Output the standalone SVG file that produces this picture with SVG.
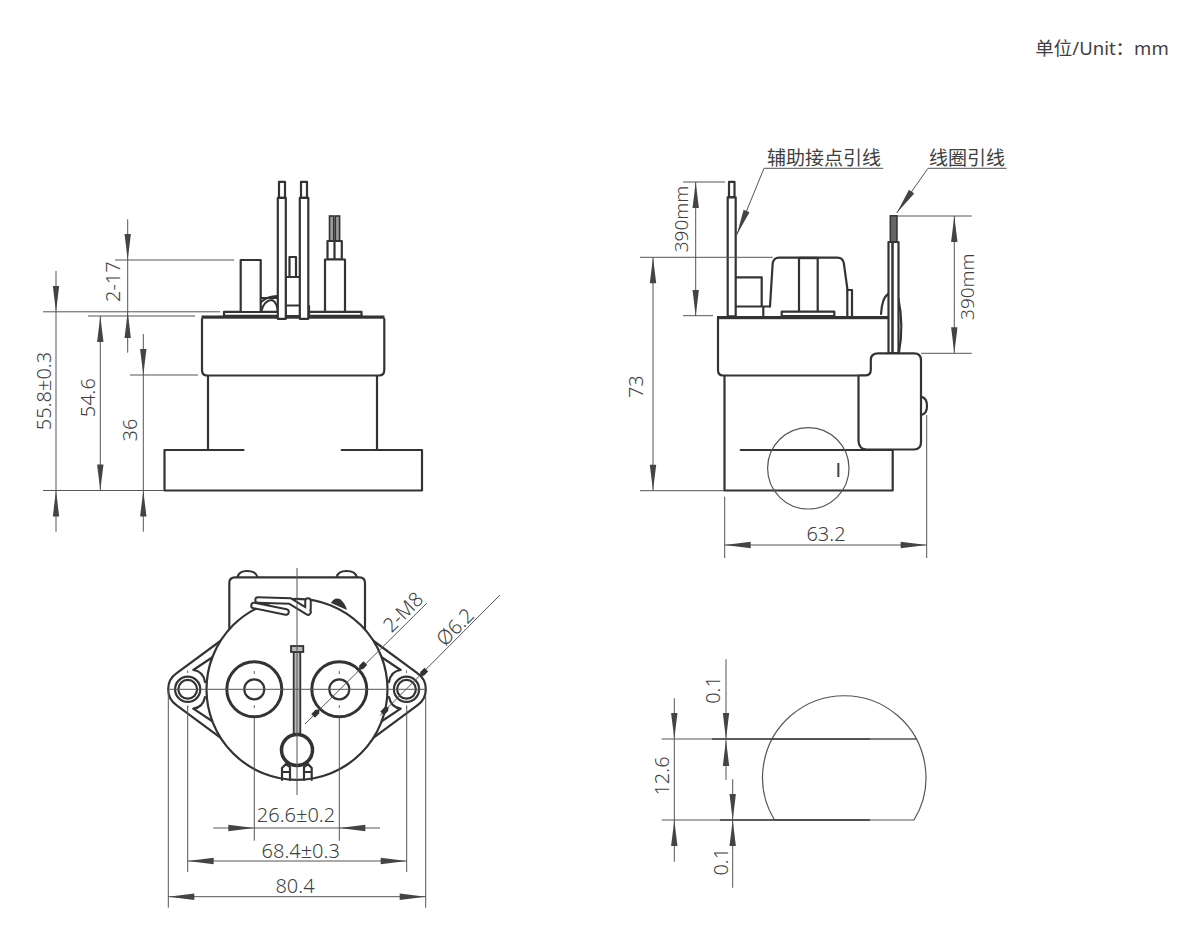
<svg xmlns="http://www.w3.org/2000/svg" xmlns:xlink="http://www.w3.org/1999/xlink" width="1200" height="948" viewBox="0 0 1200 948">
<style>
.o{fill:none;stroke:#333;stroke-width:2.2;stroke-linejoin:round;stroke-linecap:round}
.w{fill:#fff;stroke:#333;stroke-width:2.2;stroke-linejoin:round}
.d{fill:none;stroke:#555;stroke-width:1}
.t{fill:none;stroke:#555;stroke-width:1.2}
.g{fill:#bbb;stroke:#333;stroke-width:1.8}
.f{fill:#333}
.k{fill:none;stroke:#666;stroke-width:1}
text{font-family:"Noto Sans","Noto Sans CJK SC",sans-serif;font-size:20px;font-weight:300;fill:#404040;text-anchor:middle}
.c{font-family:"Noto Sans CJK SC","Noto Sans",sans-serif;font-size:19px;font-weight:400}
.m{font-size:19px}
</style>
<defs>
<path id="a" d="M0 0L-26 -3.2L-26 3.2Z" fill="#444"/>
<path id="s" d="M0 0L-3 -2.6L-9 -2.6L-9 2.6L-3 2.6Z" fill="#333"/>
</defs>

<g id="front-view">
<path class="o" d="M243.500 450H164.500V490.500H422V450H341.700"/>
<path class="o" d="M208 376V450M377 376V450"/>
<path class="o" d="M202 319V370Q202 375.500 207 375.500H379Q384.300 375.500 384.300 370V319"/>
<rect x="201.500" y="315.500" width="183" height="3.200" fill="#333"/>
<rect class="o" x="224" y="311.800" width="137.500" height="4"/>
<rect class="w" x="240.700" y="260" width="20" height="52"/>
<path class="o" d="M261 302Q268 296 277 296M261 312Q264 300 272 300Q277 302 278 312M261 298H277"/>
<path class="o" d="M309 306V316"/>
<rect class="w" x="289.500" y="257" width="6.500" height="20"/>
<rect class="w" x="285.500" y="277" width="15" height="39"/>
<path class="o" d="M285.500 305.500H300.500"/>
<rect class="w" x="279" y="181.800" width="6" height="16"/>
<rect class="w" x="301" y="181.800" width="6" height="16"/>
<rect class="w" x="277.800" y="197.800" width="8" height="121"/>
<rect class="w" x="299.800" y="197.800" width="8.500" height="121"/>
<rect x="329.500" y="216" width="4.300" height="25" fill="#999" stroke="#333" stroke-width="1.600"/>
<rect x="335.300" y="216" width="4.300" height="25" fill="#999" stroke="#333" stroke-width="1.600"/>
<rect class="w" x="327.500" y="241" width="14.300" height="18.500"/>
<path class="o" d="M334.500 241V259"/>
<rect class="w" x="325" y="259.500" width="20" height="52.300"/>
</g>

<g id="side-view">
<path class="o" d="M724.500 376V490.500H892.700V450M740.700 450H892.700"/>
<path class="o" d="M718 319V370Q718 375.500 723 375.500H870"/>
<rect x="717" y="316" width="171.500" height="3.200" fill="#333"/>
<rect class="o" x="781.700" y="311.700" width="52.600" height="4.300"/>
<path class="o" d="M770 306.500L772.700 263Q774 257.700 779 257.700H837.500Q842.500 257.700 843.800 263L847.300 288.300V316"/>
<path class="o" d="M799 258V311M817.700 258V311"/>
<rect x="799" y="256.800" width="18.700" height="2.400" fill="#333"/>
<path class="o" d="M847.300 290H852V316"/>
<path class="o" d="M736 277.300H761.700V306.500M736 306.500H770M763.300 306.500V316"/>
<rect class="w" x="729" y="181.800" width="5.500" height="15.500"/>
<rect class="w" x="727.700" y="197.300" width="8" height="119"/>
<path class="o" d="M881 314Q882 298 888 294"/>
<path class="o" d="M898.300 298Q904 326 899 352"/>
<rect x="890.300" y="215.800" width="6.700" height="26" fill="#666" stroke="#333" stroke-width="1.500"/>
<rect class="w" x="888.500" y="242" width="10" height="111"/>
<path d="M892.500 242V353" stroke="#333" stroke-width="2.500"/>
<path class="w" d="M858.500 376V441Q859 449.500 867 449.500H914Q921 449.500 921 442V360Q921 353.300 914 353.300H878Q870.800 353.300 870.800 360V370Q870.800 375.500 865 375.500H858.500"/>
<path class="o" d="M921 396.700Q927 398 927 406Q927 414 921 415"/>
<circle class="t" cx="808.300" cy="468.300" r="40.700"/>
<text x="838.300" y="477" style="font-family:'Liberation Sans',sans-serif;font-weight:400">I</text>
</g>

<g id="bottom-view">
<path class="w" d="M229.300 640V583Q229.300 577.300 235 577.300H359.500Q365 577.300 365 583V640"/>
<path class="o" d="M237.500 577Q239 571 247 571Q256 571 257.500 577M336.700 577Q338 571 346.500 571Q355.500 571 356.700 577"/>
<path class="w" d="M221.700 640L176.700 673.200A19.500 19.500 0 0 0 176.700 705.400L221.700 738.600ZM372.300 640L417.300 673.200A19.500 19.500 0 0 1 417.300 705.400L372.300 738.600Z"/>
<circle class="w" cx="297" cy="689.300" r="90.500"/>
<path class="o" d="M212 657.500L193.300 670Q203 671 205 682M212 721L193.300 708.600Q203 707.500 205 697M382 657.500L400.700 670Q391 671 389 682M382 721L400.700 708.600Q391 707.500 389 697"/>
<circle class="o" cx="187.700" cy="689.300" r="12.600"/><circle class="o" cx="187.700" cy="689.300" r="9.400"/>
<circle class="o" cx="406.500" cy="689.300" r="12.600"/><circle class="o" cx="406.500" cy="689.300" r="9.400"/>
<circle cx="254.300" cy="689.300" r="27.500" fill="#fff" stroke="#333" stroke-width="3"/>
<circle class="o" cx="254.300" cy="689.300" r="10"/>
<circle cx="339.300" cy="689.300" r="27.500" fill="#fff" stroke="#333" stroke-width="3"/>
<circle class="o" cx="339.300" cy="689.300" r="10"/>
<path class="k" d="M254.300 671V674M254.300 705V708M339.300 671V674M339.300 705V708M187.700 670.500V673M187.700 705.500V708M406.500 670.500V673M406.500 705.500V708"/>
<path class="g" d="M293.700 652H300.300V736H293.700Z"/>
<rect class="g" x="291" y="646" width="12.300" height="6"/>
<circle cx="297" cy="750" r="15.500" fill="#fff" stroke="#333" stroke-width="3.500"/>
<path class="o" d="M282 780V768L286 764L290 767V780M282 772H290M304 780V767L308 764L311.700 768V780M304 772H311.700"/>
<path d="M254 605.500L286 612M258 600L290 601L308 612M308 601V609" fill="none" stroke="#333" stroke-width="7.500" stroke-linecap="round"/>
<path d="M254 605.500L286 612M258 600L290 601L308 612M308 601V609" fill="none" stroke="#fff" stroke-width="3.500" stroke-linecap="round"/>
<path class="f" d="M331 603Q334 597 340 599Q345 603 347 610Z"/>
</g>

<g id="detail-view">
<path class="t" d="M774.500 820A81.700 81.700 0 1 1 914 820"/>
<path class="t" d="M774.500 820H914M772 739H916.600"/>
<path d="M712 739H870M720 820H870" stroke="#333" stroke-width="1.600"/>
</g>

<g id="connectors">
<path class="d" d="M115 260H234M43 311.800H220M88 316H195M130 375H198M43 490.500H164M127.700 219.300V352.700M56 271V531.700M100.300 316V490.500M143.300 334V531.700"/>
<use xlink:href="#a" transform="translate(127.700 260) rotate(90)"/>
<use xlink:href="#a" transform="translate(127.700 312) rotate(-90)"/>
<use xlink:href="#a" transform="translate(56 312) rotate(90)"/>
<use xlink:href="#a" transform="translate(56 490.500) rotate(-90)"/>
<use xlink:href="#a" transform="translate(100.300 316) rotate(-90)"/>
<use xlink:href="#a" transform="translate(100.300 490.500) rotate(90)"/>
<use xlink:href="#a" transform="translate(143.300 375) rotate(90)"/>
<use xlink:href="#a" transform="translate(143.300 490.500) rotate(-90)"/>

<path class="d" d="M683 182H725M683 315.700H713M695.700 182V316M640 257.300H772.700M640 490.700H724M653 257.300V490.700M897 216H971.700M921 353.300H971.700M954.300 216V353.300M724.700 496.700V558M926.700 415V558M724.700 545H926.700"/>
<use xlink:href="#a" transform="translate(695.700 182) rotate(-90)"/>
<use xlink:href="#a" transform="translate(695.700 316) rotate(90)"/>
<use xlink:href="#a" transform="translate(653 257.300) rotate(-90)"/>
<use xlink:href="#a" transform="translate(653 490.700) rotate(90)"/>
<use xlink:href="#a" transform="translate(954.300 216) rotate(-90)"/>
<use xlink:href="#a" transform="translate(954.300 353.300) rotate(90)"/>
<use xlink:href="#a" transform="translate(724.700 545) rotate(180)"/>
<use xlink:href="#a" transform="translate(926.700 545)"/>

<path class="d" d="M883.300 168.300H764L736.700 235M1006.700 168.300H928L896.700 213"/>
<use xlink:href="#a" transform="translate(736.700 235) rotate(112.300)"/>
<use xlink:href="#a" transform="translate(896.700 213) rotate(125)"/>

<path class="d" d="M297 568V795M168 689.300H426M168.300 689.300V907.700M187.700 706V872M254.300 717V840.700M339.300 717V840.700M406.700 706V872M425.700 695V907.700M213.300 828H380M187.700 861H406.700M168.300 896.700H425.700"/>
<use xlink:href="#a" transform="translate(254.300 828)"/>
<use xlink:href="#a" transform="translate(339.300 828) rotate(180)"/>
<use xlink:href="#a" transform="translate(187.700 861) rotate(180)"/>
<use xlink:href="#a" transform="translate(406.700 861)"/>
<use xlink:href="#a" transform="translate(168.300 896.700) rotate(180)"/>
<use xlink:href="#a" transform="translate(425.700 896.700)"/>

<path class="d" d="M305 724L426.700 603.300M380 715.500L500 595"/>
<use xlink:href="#s" transform="translate(319.500 709.500) rotate(-45)"/>
<use xlink:href="#s" transform="translate(359 669.500) rotate(135)"/>
<use xlink:href="#s" transform="translate(388.500 707) rotate(-45)"/>
<use xlink:href="#s" transform="translate(420 676) rotate(135)"/>

<path class="d" d="M661.700 739H916.600M661.700 820H774M674.300 698.300V861.700M726 659.300V780M732.700 779.300V887.700"/>
<use xlink:href="#a" transform="translate(674.300 739) rotate(90)"/>
<use xlink:href="#a" transform="translate(674.300 820) rotate(-90)"/>
<use xlink:href="#a" transform="translate(726 739) rotate(90)"/>
<use xlink:href="#a" transform="translate(726 740) rotate(-90)"/>
<use xlink:href="#a" transform="translate(732.700 820) rotate(90)"/>
<use xlink:href="#a" transform="translate(732.700 820) rotate(-90)"/>
</g>

<g id="labels">
<text x="1102" y="54.500" style="font-size:18.500px;font-weight:400">单位/Unit：mm</text>
<text class="c" x="824" y="165">辅助接点引线</text>
<text class="c" x="967" y="165">线圈引线</text>
<text transform="translate(51 391) rotate(-90)">55.8±0.3</text>
<text transform="translate(95 397.700) rotate(-90)">54.6</text>
<text transform="translate(137 430) rotate(-90)">36</text>
<text transform="translate(120 281.700) rotate(-90)">2-17</text>
<text class="m" transform="translate(688 219) rotate(-90)">390mm</text>
<text transform="translate(643 386.700) rotate(-90)">73</text>
<text class="m" transform="translate(974 286.700) rotate(-90)">390mm</text>
<text x="826" y="541">63.2</text>
<text x="296" y="821.700">26.6±0.2</text>
<text x="300.700" y="858.300">68.4±0.3</text>
<text x="295" y="893.300">80.4</text>
<text transform="translate(408 617) rotate(-45)">2-M8</text>
<text transform="translate(460 632) rotate(-45)">Ø6.2</text>
<text transform="translate(669 776) rotate(-90)">12.6</text>
<text transform="translate(720 690) rotate(-90)">0.1</text>
<text transform="translate(728 861.700) rotate(-90)">0.1</text>
</g>
</svg>
